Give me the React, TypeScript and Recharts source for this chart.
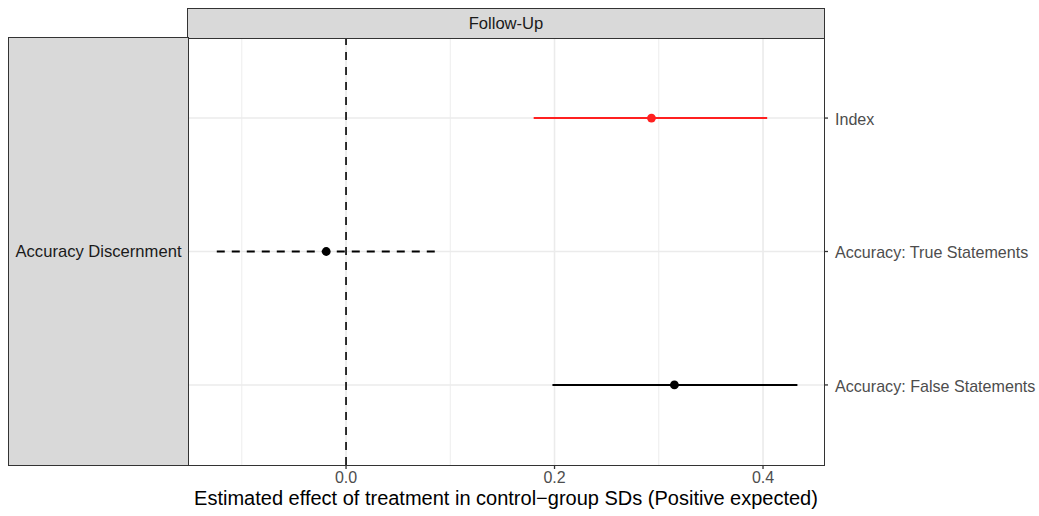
import React from "react";
import { ScatterChart, Scatter, XAxis, YAxis, ReferenceLine } from "recharts";

// ---- data ----
const outcomes = ["Index", "Accuracy: True Statements", "Accuracy: False Statements"];
const estimates = [0.293, -0.019, 0.315];
const ciLow = [0.18, -0.124, 0.198];
const ciHigh = [0.404, 0.086, 0.433];
const xTicks = [0, 0.2, 0.4];
const xMinorGrid = [-0.1, 0.1, 0.3];
const panelTitle = "Follow-Up";
const rowStripTitle = "Accuracy Discernment";
const xTitle = "Estimated effect of treatment in control\u2212group SDs (Positive expected)";

// ---- styles ----
const rowColors = ["#ff2020", "#000000", "#000000"];
const rowDash = [undefined, "8 7", undefined];
const X_DOMAIN: [number, number] = [-0.1516, 0.4585];
const Y_DOMAIN: [number, number] = [0.4, 3.6];
const FONT = "'Liberation Sans', Arial, Helvetica, sans-serif";

const yPos = (i: number) => outcomes.length - i;

const pointData = outcomes.map((o, i) => ({
  name: o,
  x: estimates[i],
  y: yPos(i),
  color: rowColors[i],
}));

const ciData = outcomes.map((o, i) => [
  { x: ciLow[i], y: yPos(i) },
  { x: ciHigh[i], y: yPos(i) },
]);

const Nothing = () => <g />;

const Dot = (props: any) => (
  <circle cx={props.cx} cy={props.cy} r={4.4} fill={props.payload.color} />
);

export default function App() {
  return (
    <div
      style={{
        position: "absolute",
        left: 0,
        top: 0,
        width: 1039,
        height: 516,
        background: "#fff",
        fontFamily: FONT,
      }}
    >
      <ScatterChart
        width={1039}
        height={516}
        margin={{ top: 38, right: 0, bottom: 0, left: 188 }}
        style={{ fontFamily: FONT }}
      >
        <XAxis
          type="number"
          dataKey="x"
          domain={X_DOMAIN}
          allowDataOverflow
          ticks={xTicks}
          tickFormatter={(v: number) => v.toFixed(1)}
          height={51}
          axisLine={false}
          tickLine={{ stroke: "#333333", strokeWidth: 1.3 }}
          tickSize={4}
          tickMargin={3}
          tick={{ fill: "#4d4d4d", fontSize: 16 }}
          label={{
            value: xTitle,
            position: "insideBottom",
            offset: 11,
            fill: "#000000",
            fontSize: 20,
          }}
        />
        <YAxis
          type="number"
          dataKey="y"
          orientation="right"
          domain={Y_DOMAIN}
          allowDataOverflow
          ticks={[1, 2, 3]}
          tickFormatter={(v: number) => outcomes[outcomes.length - v]}
          width={215}
          axisLine={false}
          tickLine={{ stroke: "#333333", strokeWidth: 1.3 }}
          tickSize={4}
          tickMargin={7}
          tick={{ fill: "#4d4d4d", fontSize: 16.1, textAnchor: "start", dy: 1 }}
        />
        {xMinorGrid.map((v) => (
          <ReferenceLine key={"mn" + v} x={v} stroke="#ebebeb" strokeWidth={0.9} />
        ))}
        {xTicks.map((v) => (
          <ReferenceLine key={"mj" + v} x={v} stroke="#ebebeb" strokeWidth={1.6} />
        ))}
        {outcomes.map((o, i) => (
          <ReferenceLine key={"hy" + o} y={yPos(i)} stroke="#ebebeb" strokeWidth={1.6} />
        ))}
        <ReferenceLine x={0} stroke="#000000" strokeWidth={1.6} strokeDasharray="8 7" />
        {ciData.map((d, i) => (
          <Scatter
            key={"ci" + i}
            data={d}
            isAnimationActive={false}
            shape={Nothing}
            line={{
              stroke: rowColors[i],
              strokeWidth: 2,
              strokeDasharray: rowDash[i],
            }}
          />
        ))}
        <Scatter data={pointData} isAnimationActive={false} shape={Dot} />
      </ScatterChart>

      {/* panel border */}
      <div
        style={{
          position: "absolute",
          left: 187,
          top: 37,
          width: 638,
          height: 429,
          border: "1.5px solid #333333",
          boxSizing: "border-box",
          pointerEvents: "none",
        }}
      />
      {/* top strip */}
      <div
        style={{
          position: "absolute",
          left: 187,
          top: 8,
          width: 638,
          height: 31,
          border: "1.5px solid #333333",
          boxSizing: "border-box",
          background: "#d9d9d9",
          color: "#1a1a1a",
          fontSize: 16.6,
          display: "flex",
          alignItems: "center",
          justifyContent: "center",
        }}
      >
        {panelTitle}
      </div>
      {/* left strip */}
      <div
        style={{
          position: "absolute",
          left: 8,
          top: 37,
          width: 181,
          height: 429,
          border: "1.5px solid #333333",
          boxSizing: "border-box",
          background: "#d9d9d9",
          color: "#1a1a1a",
          fontSize: 16.6,
          display: "flex",
          alignItems: "center",
          justifyContent: "center",
          whiteSpace: "nowrap",
        }}
      >
        {rowStripTitle}
      </div>
    </div>
  );
}
